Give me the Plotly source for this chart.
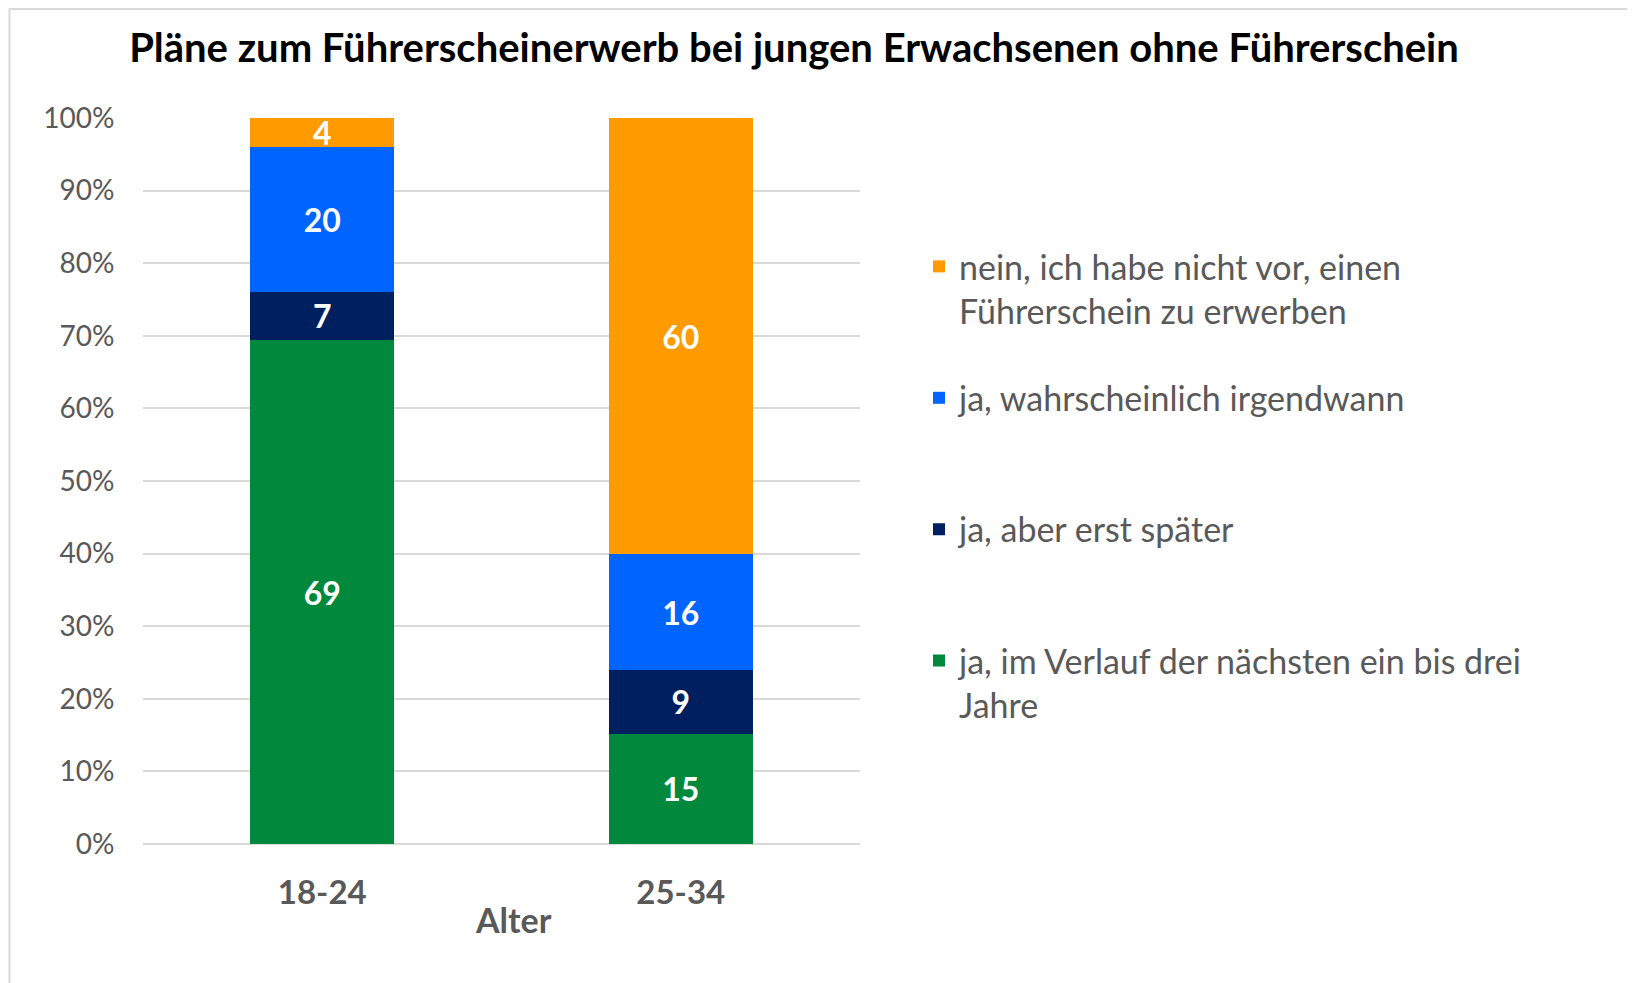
import plotly.graph_objects as go

categories = ["18-24", "25-34"]
series_names = [
    "ja, im Verlauf der nächsten ein bis drei<br>Jahre",
    "ja, aber erst später<br> ",
    "ja, wahrscheinlich irgendwann<br> ",
    "nein, ich habe nicht vor, einen<br>Führerschein zu erwerben",
]
green_vals = [69.4, 15.2]
navy_vals = [6.7, 8.8]
blue_vals = [19.9, 15.9]
orange_vals = [4.0, 60.1]
colors = ["#00893C", "#001F5F", "#0064FF", "#FF9A00"]

FONT = "Lato, 'Open Sans', sans-serif"
GREY = "#595959"

# page offset of the figure (browser body margin)
OFF = 8
W, H = 1627, 975
# desired plot area in page pixels
PX0, PX1, PY0, PY1 = 143, 860, 118, 843.6


def px(x):
    return (x - PX0) / (PX1 - PX0)


def py(y):
    return (PY1 - y) / (PY1 - PY0)


fig = go.Figure()
all_vals = [green_vals, navy_vals, blue_vals, orange_vals]
for i, (name, vals, col) in enumerate(zip(series_names, all_vals, colors)):
    fig.add_trace(go.Bar(
        x=categories, y=vals, name=name, marker_color=col,
        marker_line_width=0,
        text=[f"{v:.0f}" for v in vals], textposition="inside",
        insidetextanchor="middle", textangle=0, constraintext="none",
        cliponaxis=False,
        textfont=dict(family=FONT, size=32, color="white", weight="bold"),
        legendgroup=f"g{i}", legendrank=10 - i,
    ))

fig.update_layout(
    width=W, height=H,
    barmode="stack", barnorm="percent", bargap=0.598,
    paper_bgcolor="white", plot_bgcolor="white",
    margin=dict(l=PX0 - OFF, r=W - (PX1 - OFF), t=PY0 - OFF, b=H - (PY1 - OFF)),
    title=dict(text="<b>Pläne zum Führerscheinerwerb bei jungen Erwachsenen ohne Führerschein</b>",
               x=(794 - OFF) / W, xanchor="center", y=1 - (48 - OFF) / H, yanchor="middle",
               font=dict(family=FONT, size=40, color="black")),
    showlegend=True,
    legend=dict(x=px(919), xanchor="left", y=0.835, yanchor="top",
                traceorder="grouped", tracegroupgap=40,
                valign="top",
                font=dict(family=FONT, size=34, color=GREY),
                bgcolor="rgba(0,0,0,0)"),
    xaxis=dict(showgrid=False, showline=False, zeroline=False,
               ticks="outside", ticklen=19, tickcolor="rgba(0,0,0,0)",
               tickfont=dict(family=FONT, size=33, color=GREY, weight="bold")),
    yaxis=dict(range=[0, 100], dtick=10, ticksuffix="%",
               showgrid=True, gridcolor="#D9D9D9", gridwidth=2,
               zeroline=True, zerolinecolor="#D9D9D9", zerolinewidth=2,
               showline=False,
               ticks="outside", ticklen=22, tickcolor="rgba(0,0,0,0)",
               tickfont=dict(family=FONT, size=28, color=GREY)),
    annotations=[dict(text="<b>Alter</b>", xref="paper", yref="paper",
                      x=px(513), y=py(919),
                      xanchor="center", yanchor="middle", showarrow=False,
                      font=dict(family=FONT, size=34, color=GREY))],
    shapes=[dict(type="rect", xref="paper", yref="paper",
                 x0=px(9.5), x1=px(1700),
                 y0=py(1100), y1=py(9),
                 line=dict(color="#D9D9D9", width=2), fillcolor="rgba(0,0,0,0)",
                 layer="below")],
)

fig.write_html("out.html")
